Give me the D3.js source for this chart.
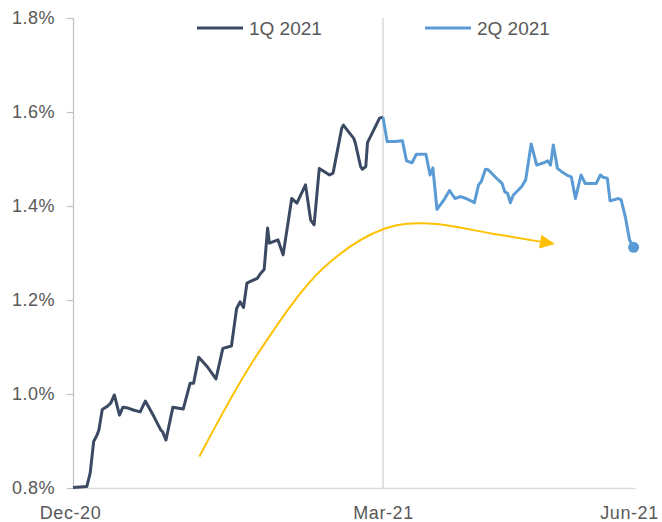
<!DOCTYPE html>
<html>
<head>
<meta charset="utf-8">
<script src="https://cdn.jsdelivr.net/npm/d3@7"></script>
<style>
  html, body { margin: 0; padding: 0; background: #fff; }
  svg text { font-family: "Liberation Sans", Arial, sans-serif; fill: #595959; }
</style>
</head>
<body>
<svg id="chart" width="662" height="522"></svg>
<script>
// ---- data (x = day position: Q1 spans 0..90, Q2 spans 90..181) ----
const q1Days = [0,4,5,6,7,7.5,8.5,10,11,12,13.5,14.5,16,17.5,19.5,21,23.5,25.5,26,27,29,32,34,35,36.5,39,41.5,43.5,46,47.5,48.5,49.5,50.5,52,53.5,54.5,55.5,56.5,57,59.5,61,63.5,65,67.5,69,70,71.5,74.5,75.5,78,78.5,81.5,82,83.5,84,85,85.5,89,90];
const q1Values = [0.801,0.803,0.832,0.899,0.913,0.923,0.967,0.974,0.981,0.998,0.955,0.972,0.970,0.966,0.962,0.985,0.952,0.923,0.920,0.902,0.972,0.968,1.023,1.023,1.078,1.058,1.032,1.097,1.102,1.182,1.196,1.184,1.236,1.241,1.246,1.257,1.265,1.353,1.321,1.328,1.296,1.416,1.406,1.445,1.370,1.360,1.480,1.466,1.470,1.565,1.572,1.544,1.533,1.484,1.478,1.484,1.535,1.587,1.589];
const q2Days = [90,91.5,94.5,97,98.5,99.5,100.5,102,105.5,107,108,109.5,112,114,116,118,120,123,124.5,125.5,127,128,131,133,134,135,136,137,140,141.5,143.5,145.5,148,149.5,150.5,151.5,153,154.5,157,158,159.5,161.5,163,167,168.5,169.5,171,172,175,176,177.5,179,180.5];
const q2Values = [1.589,1.537,1.537,1.539,1.496,1.494,1.492,1.510,1.510,1.466,1.481,1.393,1.413,1.433,1.416,1.420,1.416,1.407,1.445,1.452,1.478,1.477,1.459,1.448,1.430,1.427,1.407,1.423,1.441,1.455,1.532,1.487,1.492,1.496,1.487,1.530,1.480,1.473,1.464,1.462,1.416,1.466,1.448,1.448,1.466,1.461,1.459,1.411,1.416,1.413,1.377,1.328,1.312];
const seriesNames = ["1Q 2021", "2Q 2021"];
const xTickDays = [0, 90, 181];
const xTickLabels = ["Dec-20", "Mar-21", "Jun-21"];
const yTicks = [0.8, 1.0, 1.2, 1.4, 1.6, 1.8];
// trend arrow (annotation) in data units
const arrowDays = [36.7, 53.5, 73, 90.7, 106.5, 129.6, 152.1];
const arrowValues = [0.867, 1.084, 1.270, 1.352, 1.363, 1.341, 1.319];

// ---- layout ----
const colQ1 = "#3B4A62", colQ2 = "#5B9BD5", colArrow = "#FFC000";
const svg = d3.select("#chart");
const plotL = 73, plotR = 635, plotT = 18, plotB = 488;

const x = d3.scaleLinear().domain(xTickDays).range([plotL, 383, plotR]);
const y = d3.scaleLinear().domain([0.8, 1.8]).range([plotB, plotT]);

// Mar-21 vertical gridline
svg.append("line")
  .attr("x1", x(90)).attr("x2", x(90)).attr("y1", plotT).attr("y2", plotB)
  .attr("stroke", "#D9D9D9").attr("stroke-width", 1.5);

// y axis
const yAxis = d3.axisLeft(y).tickValues(yTicks).tickSize(6).tickPadding(12)
  .tickFormat(d => d3.format(".1f")(d) + "%");
const gy = svg.append("g").attr("transform", `translate(${plotL},0)`).call(yAxis);
gy.select(".domain").attr("stroke", "#BFBFBF").attr("stroke-width", 1.2);
gy.selectAll(".tick line").attr("stroke", "#BFBFBF").attr("stroke-width", 1.2);
gy.selectAll(".tick text").style("font-size", "18px").style("letter-spacing", "0.5px").attr("fill", "#595959");

// x axis
const xAxis = d3.axisBottom(x).tickValues(xTickDays).tickSize(0).tickPadding(17)
  .tickFormat((d, i) => xTickLabels[i]);
const gx = svg.append("g").attr("transform", `translate(0,${plotB})`).call(xAxis);
gx.select(".domain").attr("stroke", "#D9D9D9").attr("stroke-width", 1.5);
gx.selectAll(".tick text").style("font-size", "18px").style("letter-spacing", "0.6px").attr("fill", "#595959")
  .attr("dy", "0.75em");
gx.selectAll(".tick text").filter((d, i) => i === 0).attr("dx", -3);
gx.selectAll(".tick text").filter((d, i) => i === 2).attr("dx", -6);

// lines
const line = d3.line().x(d => x(d[0])).y(d => y(d[1]));
const q1 = q1Days.map((d, i) => [d, q1Values[i]]);
const q2 = q2Days.map((d, i) => [d, q2Values[i]]);
svg.append("path").datum(q1).attr("d", line).attr("fill", "none")
  .attr("stroke", colQ1).attr("stroke-width", 3).attr("stroke-linejoin", "round");
svg.append("path").datum(q2).attr("d", line).attr("fill", "none")
  .attr("stroke", colQ2).attr("stroke-width", 3).attr("stroke-linejoin", "round");
const last = q2[q2.length - 1];
svg.append("circle").attr("cx", x(last[0])).attr("cy", y(last[1])).attr("r", 5.5).attr("fill", colQ2);

// arrow
const apx = arrowDays.map((d, i) => [x(d), y(arrowValues[i])]);
const tip = apx[apx.length - 1];
const prev = apx[apx.length - 2];
const ang = Math.atan2(tip[1] - prev[1], tip[0] - prev[0]);
const headLen = 15, headHalf = 7;
const base = [tip[0] - headLen * Math.cos(ang), tip[1] - headLen * Math.sin(ang)];
const shaftPts = apx.slice(0, -1).concat([base]);
svg.append("path").datum(shaftPts)
  .attr("d", d3.line().curve(d3.curveCatmullRom))
  .attr("fill", "none").attr("stroke", colArrow).attr("stroke-width", 2);
svg.append("path")
  .attr("d", `M${tip[0]},${tip[1]} L${base[0] - headHalf * Math.sin(ang)},${base[1] + headHalf * Math.cos(ang)} L${base[0] + headHalf * Math.sin(ang)},${base[1] - headHalf * Math.cos(ang)} Z`)
  .attr("fill", colArrow);

// legend
const legendX = [197, 425];
const legendCols = [colQ1, colQ2];
seriesNames.forEach((name, i) => {
  const g = svg.append("g").attr("transform", `translate(${legendX[i]},28)`);
  g.append("line").attr("x1", 0).attr("x2", 46).attr("y1", 0).attr("y2", 0)
    .attr("stroke", legendCols[i]).attr("stroke-width", 3);
  g.append("text").attr("x", 52).attr("y", 0).attr("dy", "0.35em")
    .style("font-size", "19px").text(name);
});
</script>
</body>
</html>
